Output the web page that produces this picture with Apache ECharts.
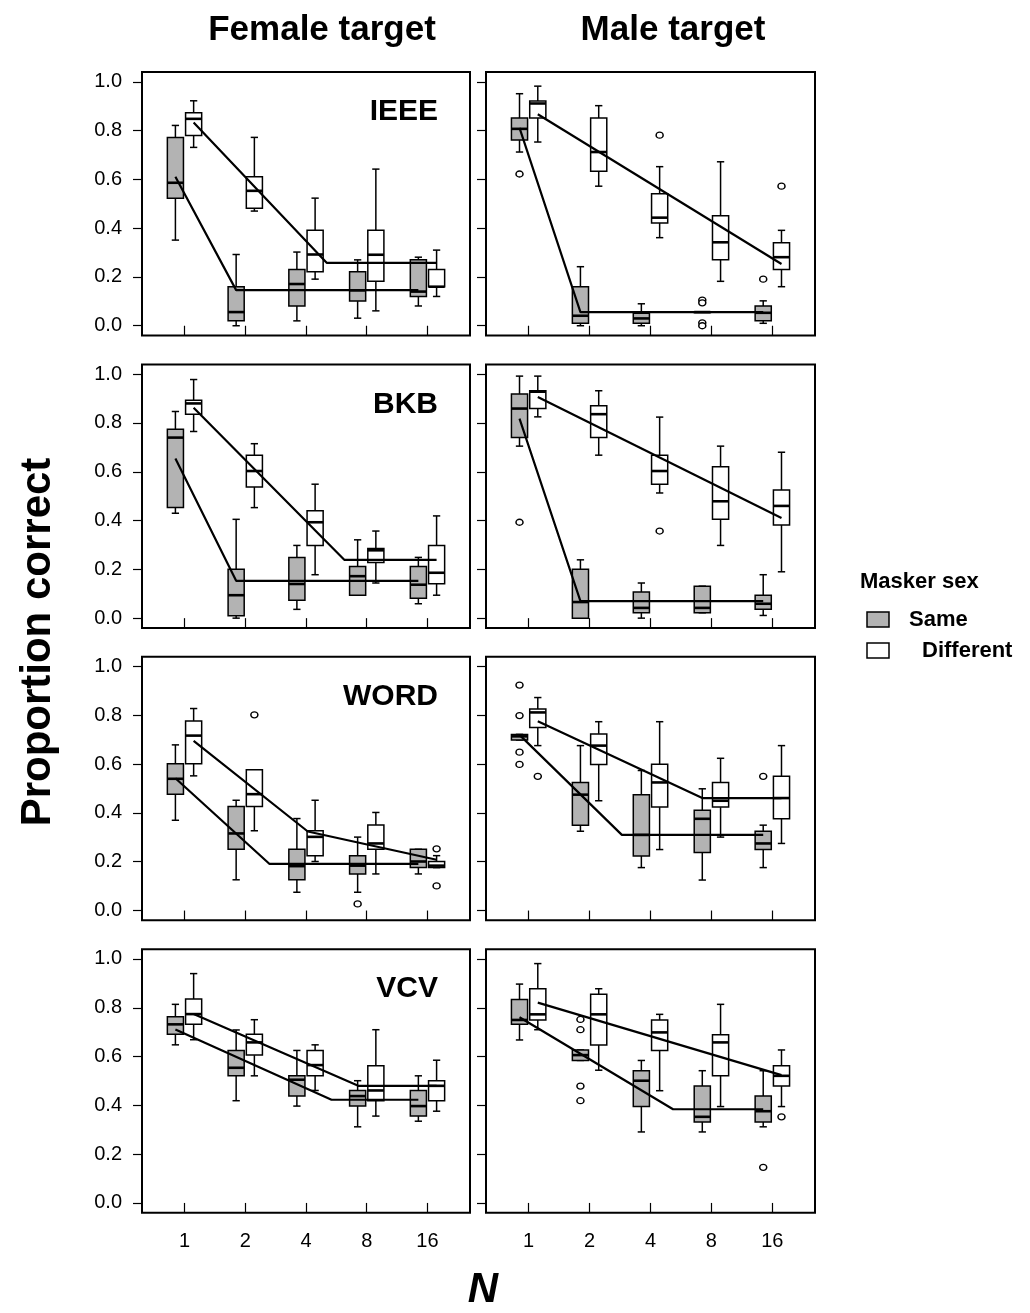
<!DOCTYPE html>
<html>
<head>
<meta charset="utf-8">
<script src="https://cdn.jsdelivr.net/npm/echarts@6/dist/echarts.min.js"></script>
<style>
html,body{margin:0;padding:0;background:#fff;}
#chart{width:1030px;height:1313px;}
</style>
</head>
<body>
<div id="chart"></div>
<script>
// ---------- labels ----------
const nLabels = ['1', '2', '4', '8', '16'];
const yTickValues = [0, 0.2, 0.4, 0.6, 0.8, 1.0];
const columnTitles = ['Female target', 'Male target'];
const testNames = ['IEEE', 'BKB', 'WORD', 'VCV'];
const groupNames = ['Same', 'Different'];
const legendTitle = 'Masker sex';
const yTitle = 'Proportion correct';
const xTitle = 'N';

// ---------- box statistics per N: [low whisker, Q1, median, Q3, high whisker] ----------
const ieeeFemaleSame = [[0.351,0.523,0.586,0.772,0.821],[0.000,0.020,0.056,0.160,0.292],[0.020,0.081,0.171,0.231,0.302],[0.031,0.101,0.145,0.221,0.270],[0.081,0.120,0.140,0.270,0.281]];
const ieeeFemaleDiff = [[0.731,0.780,0.848,0.873,0.922],[0.470,0.482,0.553,0.611,0.772],[0.191,0.221,0.292,0.391,0.523],[0.061,0.182,0.291,0.391,0.642],[0.120,0.160,0.160,0.231,0.310]];
const ieeeMaleSame = [[0.712,0.761,0.807,0.851,0.951],[0.000,0.010,0.041,0.160,0.242],[0.000,0.010,0.030,0.051,0.090],[0.056,0.056,0.056,0.056,0.056],[0.010,0.020,0.053,0.081,0.102]];
const ieeeMaleDiff = [[0.753,0.851,0.911,0.921,0.982],[0.572,0.633,0.712,0.851,0.902],[0.361,0.421,0.443,0.541,0.652],[0.182,0.270,0.342,0.451,0.672],[0.160,0.231,0.281,0.340,0.391]];

const bkbFemaleSame = [[0.430,0.453,0.740,0.774,0.847],[0.000,0.010,0.094,0.200,0.405],[0.036,0.073,0.140,0.249,0.298],[0.094,0.094,0.172,0.212,0.321],[0.059,0.082,0.137,0.212,0.249]];
const bkbFemaleDiff = [[0.765,0.836,0.880,0.893,0.978],[0.453,0.538,0.603,0.668,0.715],[0.178,0.298,0.393,0.440,0.549],[0.144,0.228,0.278,0.285,0.357],[0.094,0.141,0.186,0.298,0.419]];
const bkbMaleSame = [[0.705,0.740,0.859,0.919,0.992],[0.000,0.000,0.066,0.200,0.239],[0.000,0.022,0.042,0.107,0.144],[0.022,0.022,0.042,0.131,0.131],[0.011,0.036,0.059,0.094,0.178]];
const bkbMaleDiff = [[0.825,0.859,0.928,0.932,0.992],[0.668,0.740,0.836,0.871,0.932],[0.513,0.549,0.603,0.668,0.824],[0.298,0.405,0.479,0.620,0.705],[0.190,0.382,0.460,0.525,0.680]];

const wordFemaleSame = [[0.370,0.477,0.540,0.602,0.679],[0.126,0.251,0.316,0.426,0.452],[0.075,0.126,0.182,0.251,0.377],[0.075,0.150,0.184,0.225,0.301],[0.150,0.176,0.201,0.251,0.251]];
const wordFemaleDiff = [[0.552,0.602,0.717,0.777,0.828],[0.327,0.426,0.477,0.577,0.577],[0.201,0.225,0.302,0.327,0.452],[0.150,0.251,0.275,0.351,0.402],[0.176,0.176,0.184,0.201,0.225]];
const wordMaleSame = [[0.699,0.699,0.714,0.722,0.722],[0.325,0.350,0.475,0.525,0.676],[0.176,0.224,0.310,0.475,0.574],[0.125,0.238,0.376,0.411,0.499],[0.176,0.250,0.275,0.325,0.350]];
const wordMaleDiff = [[0.676,0.750,0.812,0.826,0.873],[0.450,0.599,0.676,0.724,0.774],[0.250,0.424,0.525,0.600,0.774],[0.301,0.424,0.450,0.525,0.624],[0.275,0.376,0.461,0.550,0.676]];

const vcvFemaleSame = [[0.648,0.691,0.732,0.763,0.814],[0.419,0.521,0.554,0.625,0.709],[0.397,0.438,0.505,0.521,0.625],[0.312,0.397,0.438,0.461,0.501],[0.335,0.356,0.397,0.461,0.521]];
const vcvFemaleDiff = [[0.669,0.732,0.774,0.836,0.940],[0.521,0.606,0.658,0.691,0.751],[0.461,0.521,0.565,0.625,0.648],[0.356,0.419,0.461,0.562,0.710],[0.376,0.419,0.480,0.501,0.585]];
const vcvMaleSame = [[0.668,0.732,0.750,0.834,0.897],[0.584,0.584,0.606,0.627,0.627],[0.291,0.395,0.501,0.542,0.584],[0.291,0.332,0.353,0.479,0.542],[0.312,0.332,0.376,0.438,0.542]];
const vcvMaleDiff = [[0.710,0.750,0.773,0.878,0.981],[0.544,0.647,0.773,0.855,0.878],[0.460,0.625,0.699,0.750,0.773],[0.395,0.521,0.658,0.689,0.814],[0.395,0.479,0.521,0.562,0.627]];

// ---------- outliers: [N index, value] ----------
const ieeeFemaleSameOut = [];
const ieeeFemaleDiffOut = [];
const ieeeMaleSameOut = [[0,0.622],[3,0.105],[3,0.094],[3,0.012],[3,0.000],[4,0.191]];
const ieeeMaleDiffOut = [[2,0.781],[4,0.572]];
const bkbFemaleSameOut = [];
const bkbFemaleDiffOut = [];
const bkbMaleSameOut = [[0,0.393]];
const bkbMaleDiffOut = [[2,0.357]];
const wordFemaleSameOut = [[3,0.027]];
const wordFemaleDiffOut = [[1,0.802],[4,0.253],[4,0.101]];
const wordMaleSameOut = [[0,0.924],[0,0.799],[0,0.649],[0,0.599],[4,0.550]];
const wordMaleDiffOut = [[0,0.550]];
const vcvFemaleSameOut = [];
const vcvFemaleDiffOut = [];
const vcvMaleSameOut = [[1,0.752],[1,0.710],[1,0.479],[1,0.419],[4,0.146]];
const vcvMaleDiffOut = [[4,0.353]];

// ---------- fitted broken-stick lines: [log2(N), value] ----------
const ieeeFemaleSameFit = [[0,0.611],[1.00,0.146],[4,0.146]];
const ieeeFemaleDiffFit = [[0,0.833],[2.19,0.258],[4,0.258]];
const ieeeMaleSameFit = [[0,0.811],[1.00,0.056],[4,0.056]];
const ieeeMaleDiffFit = [[0,0.867],[4,0.253]];
const bkbFemaleSameFit = [[0,0.654],[1.00,0.153],[4,0.153]];
const bkbFemaleDiffFit = [[0,0.862],[2.48,0.239],[4,0.239]];
const bkbMaleSameFit = [[0,0.818],[1.00,0.070],[4,0.070]];
const bkbMaleDiffFit = [[0,0.906],[4,0.410]];
const wordFemaleSameFit = [[0,0.542],[1.55,0.191],[4,0.191]];
const wordFemaleDiffFit = [[0,0.695],[1.88,0.324],[4,0.208]];
const wordMaleSameFit = [[0,0.720],[1.68,0.310],[4,0.310]];
const wordMaleDiffFit = [[0,0.776],[2.70,0.461],[4,0.461]];
const vcvFemaleSameFit = [[0,0.711],[2.57,0.423],[4,0.423]];
const vcvFemaleDiffFit = [[0,0.774],[2.71,0.480],[4,0.480]];
const vcvMaleSameFit = [[0,0.761],[2.52,0.384],[4,0.384]];
const vcvMaleDiffFit = [[0,0.821],[4,0.524]];

// panel order: row = test, column = target
const panels = [
  {same: ieeeFemaleSame, diff: ieeeFemaleDiff, sameOut: ieeeFemaleSameOut, diffOut: ieeeFemaleDiffOut, sameFit: ieeeFemaleSameFit, diffFit: ieeeFemaleDiffFit},
  {same: ieeeMaleSame, diff: ieeeMaleDiff, sameOut: ieeeMaleSameOut, diffOut: ieeeMaleDiffOut, sameFit: ieeeMaleSameFit, diffFit: ieeeMaleDiffFit},
  {same: bkbFemaleSame, diff: bkbFemaleDiff, sameOut: bkbFemaleSameOut, diffOut: bkbFemaleDiffOut, sameFit: bkbFemaleSameFit, diffFit: bkbFemaleDiffFit},
  {same: bkbMaleSame, diff: bkbMaleDiff, sameOut: bkbMaleSameOut, diffOut: bkbMaleDiffOut, sameFit: bkbMaleSameFit, diffFit: bkbMaleDiffFit},
  {same: wordFemaleSame, diff: wordFemaleDiff, sameOut: wordFemaleSameOut, diffOut: wordFemaleDiffOut, sameFit: wordFemaleSameFit, diffFit: wordFemaleDiffFit},
  {same: wordMaleSame, diff: wordMaleDiff, sameOut: wordMaleSameOut, diffOut: wordMaleDiffOut, sameFit: wordMaleSameFit, diffFit: wordMaleDiffFit},
  {same: vcvFemaleSame, diff: vcvFemaleDiff, sameOut: vcvFemaleSameOut, diffOut: vcvFemaleDiffOut, sameFit: vcvFemaleSameFit, diffFit: vcvFemaleDiffFit},
  {same: vcvMaleSame, diff: vcvMaleDiff, sameOut: vcvMaleSameOut, diffOut: vcvMaleDiffOut, sameFit: vcvMaleSameFit, diffFit: vcvMaleDiffFit}
];

// ---------- layout / style ----------
const FONT = '"Liberation Sans", Arial, Helvetica, sans-serif';
const GRID_LEFT = [142, 486];
const GRID_WIDTH = [328, 329];
const GRID_TOP0 = 72;
const ROW_STEP = 292.4;
const GRID_HEIGHT = 263.5;
const OFFSET = 0.15;       // box shift from the N tick (x units)
const BOX_W = 0.265;       // box width (x units)
const CAP_W = 0.12;        // whisker cap width (x units)
const FILL = {same: '#b3b3b3', diff: '#ffffff'};

function renderBox(params, api) {
  const x = api.value(0);
  const lo = api.coord([x, api.value(1)]);
  const q1 = api.coord([x, api.value(2)]);
  const md = api.coord([x, api.value(3)]);
  const q3 = api.coord([x, api.value(4)]);
  const hi = api.coord([x, api.value(5)]);
  const hw = api.size([BOX_W, 0])[0] / 2;
  const cw = api.size([CAP_W, 0])[0] / 2;
  const cx = md[0];
  const fill = api.style().fill;
  const ls = {stroke: '#000', lineWidth: 1.5};
  return {
    type: 'group',
    children: [
      {type: 'line', shape: {x1: cx, y1: lo[1], x2: cx, y2: q1[1]}, style: ls},
      {type: 'line', shape: {x1: cx, y1: q3[1], x2: cx, y2: hi[1]}, style: ls},
      {type: 'line', shape: {x1: cx - cw, y1: lo[1], x2: cx + cw, y2: lo[1]}, style: ls},
      {type: 'line', shape: {x1: cx - cw, y1: hi[1], x2: cx + cw, y2: hi[1]}, style: ls},
      {type: 'rect', shape: {x: cx - hw, y: q3[1], width: 2 * hw, height: Math.max(q1[1] - q3[1], 0.5)},
        style: {fill: fill, stroke: '#000', lineWidth: 1.5}},
      {type: 'line', shape: {x1: cx - hw, y1: md[1], x2: cx + hw, y2: md[1]}, style: {stroke: '#000', lineWidth: 2.6}}
    ]
  };
}

const grids = [], xAxes = [], yAxes = [], series = [];
panels.forEach((p, i) => {
  const r = Math.floor(i / 2), c = i % 2;
  grids.push({
    left: GRID_LEFT[c], top: GRID_TOP0 + r * ROW_STEP, width: GRID_WIDTH[c], height: GRID_HEIGHT,
    show: true, borderColor: '#000', borderWidth: 2, backgroundColor: 'transparent', containLabel: false
  });
  xAxes.push({
    type: 'value', gridIndex: i, min: 0.3, max: 5.7,
    splitLine: {show: false}, axisLine: {show: false},
    axisTick: {show: true, length: 10, lineStyle: {color: '#000', width: 1.2}, customValues: [1, 2, 3, 4, 5]},
    axisLabel: {show: r === 3, customValues: [1, 2, 3, 4, 5], margin: 19, color: '#000', fontSize: 20, fontFamily: FONT,
      formatter: v => nLabels[Math.round(v) - 1]}
  });
  yAxes.push({
    type: 'value', gridIndex: i, min: -0.04, max: 1.04,
    splitLine: {show: false}, axisLine: {show: false},
    axisTick: {show: true, length: 9, lineStyle: {color: '#000', width: 1.2}, customValues: yTickValues},
    axisLabel: {show: c === 0, customValues: yTickValues, margin: 20, color: '#000', fontSize: 20, fontFamily: FONT,
      formatter: v => v.toFixed(1)}
  });
  [['same', -OFFSET, 'Same'], ['diff', OFFSET, 'Different']].forEach(([key, off, name]) => {
    series.push({
      type: 'custom', name: name, xAxisIndex: i, yAxisIndex: i, renderItem: renderBox,
      itemStyle: {color: FILL[key]},
      encode: {x: 0, y: [1, 2, 3, 4, 5]},
      data: p[key].map((s, k) => [k + 1 + off].concat(s)),
      z: 2, animation: false
    });
    series.push({
      type: 'scatter', name: name + ' outliers', xAxisIndex: i, yAxisIndex: i,
      symbol: 'circle', symbolSize: [7, 6],
      itemStyle: {color: '#fff', borderColor: '#000', borderWidth: 1.4, opacity: 1},
      data: p[key + 'Out'].map(o => [o[0] + 1 + off, o[1]]),
      z: 3, animation: false, silent: true
    });
    series.push({
      type: 'line', name: name + ' fit', xAxisIndex: i, yAxisIndex: i,
      symbol: 'none', lineStyle: {color: '#000', width: 2.2},
      data: p[key + 'Fit'].map(f => [f[0] + 1 + off, f[1]]),
      z: 4, animation: false, silent: true
    });
  });
});

const graphics = [];
const titleX = [322, 673];
columnTitles.forEach((t, c) => graphics.push({
  type: 'text', x: titleX[c], y: 30,
  style: {text: t, font: 'bold 35px ' + FONT, fill: '#000', align: 'center', textAlign: 'center', verticalAlign: 'middle', textVerticalAlign: 'middle'}
}));
testNames.forEach((t, r) => graphics.push({
  type: 'text', x: GRID_LEFT[0] + GRID_WIDTH[0] - 32, y: GRID_TOP0 + r * ROW_STEP + 40,
  style: {text: t, font: 'bold 30px ' + FONT, fill: '#000', align: 'right', textAlign: 'right', verticalAlign: 'middle', textVerticalAlign: 'middle'}
}));
graphics.push({
  type: 'text', x: 38, y: 642, rotation: Math.PI / 2,
  style: {text: yTitle, font: 'bold 42px ' + FONT, fill: '#000', align: 'center', textAlign: 'center', verticalAlign: 'middle', textVerticalAlign: 'middle'}
});
graphics.push({
  type: 'text', x: 483, y: 1290,
  style: {text: xTitle, font: 'italic bold 42px ' + FONT, fill: '#000', align: 'center', textAlign: 'center', verticalAlign: 'middle', textVerticalAlign: 'middle'}
});
graphics.push({
  type: 'text', x: 860, y: 582,
  style: {text: legendTitle, font: 'bold 22px ' + FONT, fill: '#000', align: 'left', textAlign: 'left', verticalAlign: 'middle', textVerticalAlign: 'middle'}
});
const legendFills = [FILL.same, FILL.diff];
const legendTextX = [909, 922];
groupNames.forEach((g, k) => {
  graphics.push({type: 'rect', shape: {x: 867, y: 612 + k * 31, width: 22, height: 15},
    style: {fill: legendFills[k], stroke: '#000', lineWidth: 1.5}});
  graphics.push({type: 'text', x: legendTextX[k], y: 620 + k * 31,
    style: {text: g, font: 'bold 22px ' + FONT, fill: '#000', align: 'left', textAlign: 'left', verticalAlign: 'middle', textVerticalAlign: 'middle'}});
});

const chart = echarts.init(document.getElementById('chart'), null, {renderer: 'canvas'});
chart.setOption({
  backgroundColor: '#fff',
  animation: false,
  grid: grids,
  xAxis: xAxes,
  yAxis: yAxes,
  series: series,
  graphic: graphics
});
</script>
</body>
</html>
